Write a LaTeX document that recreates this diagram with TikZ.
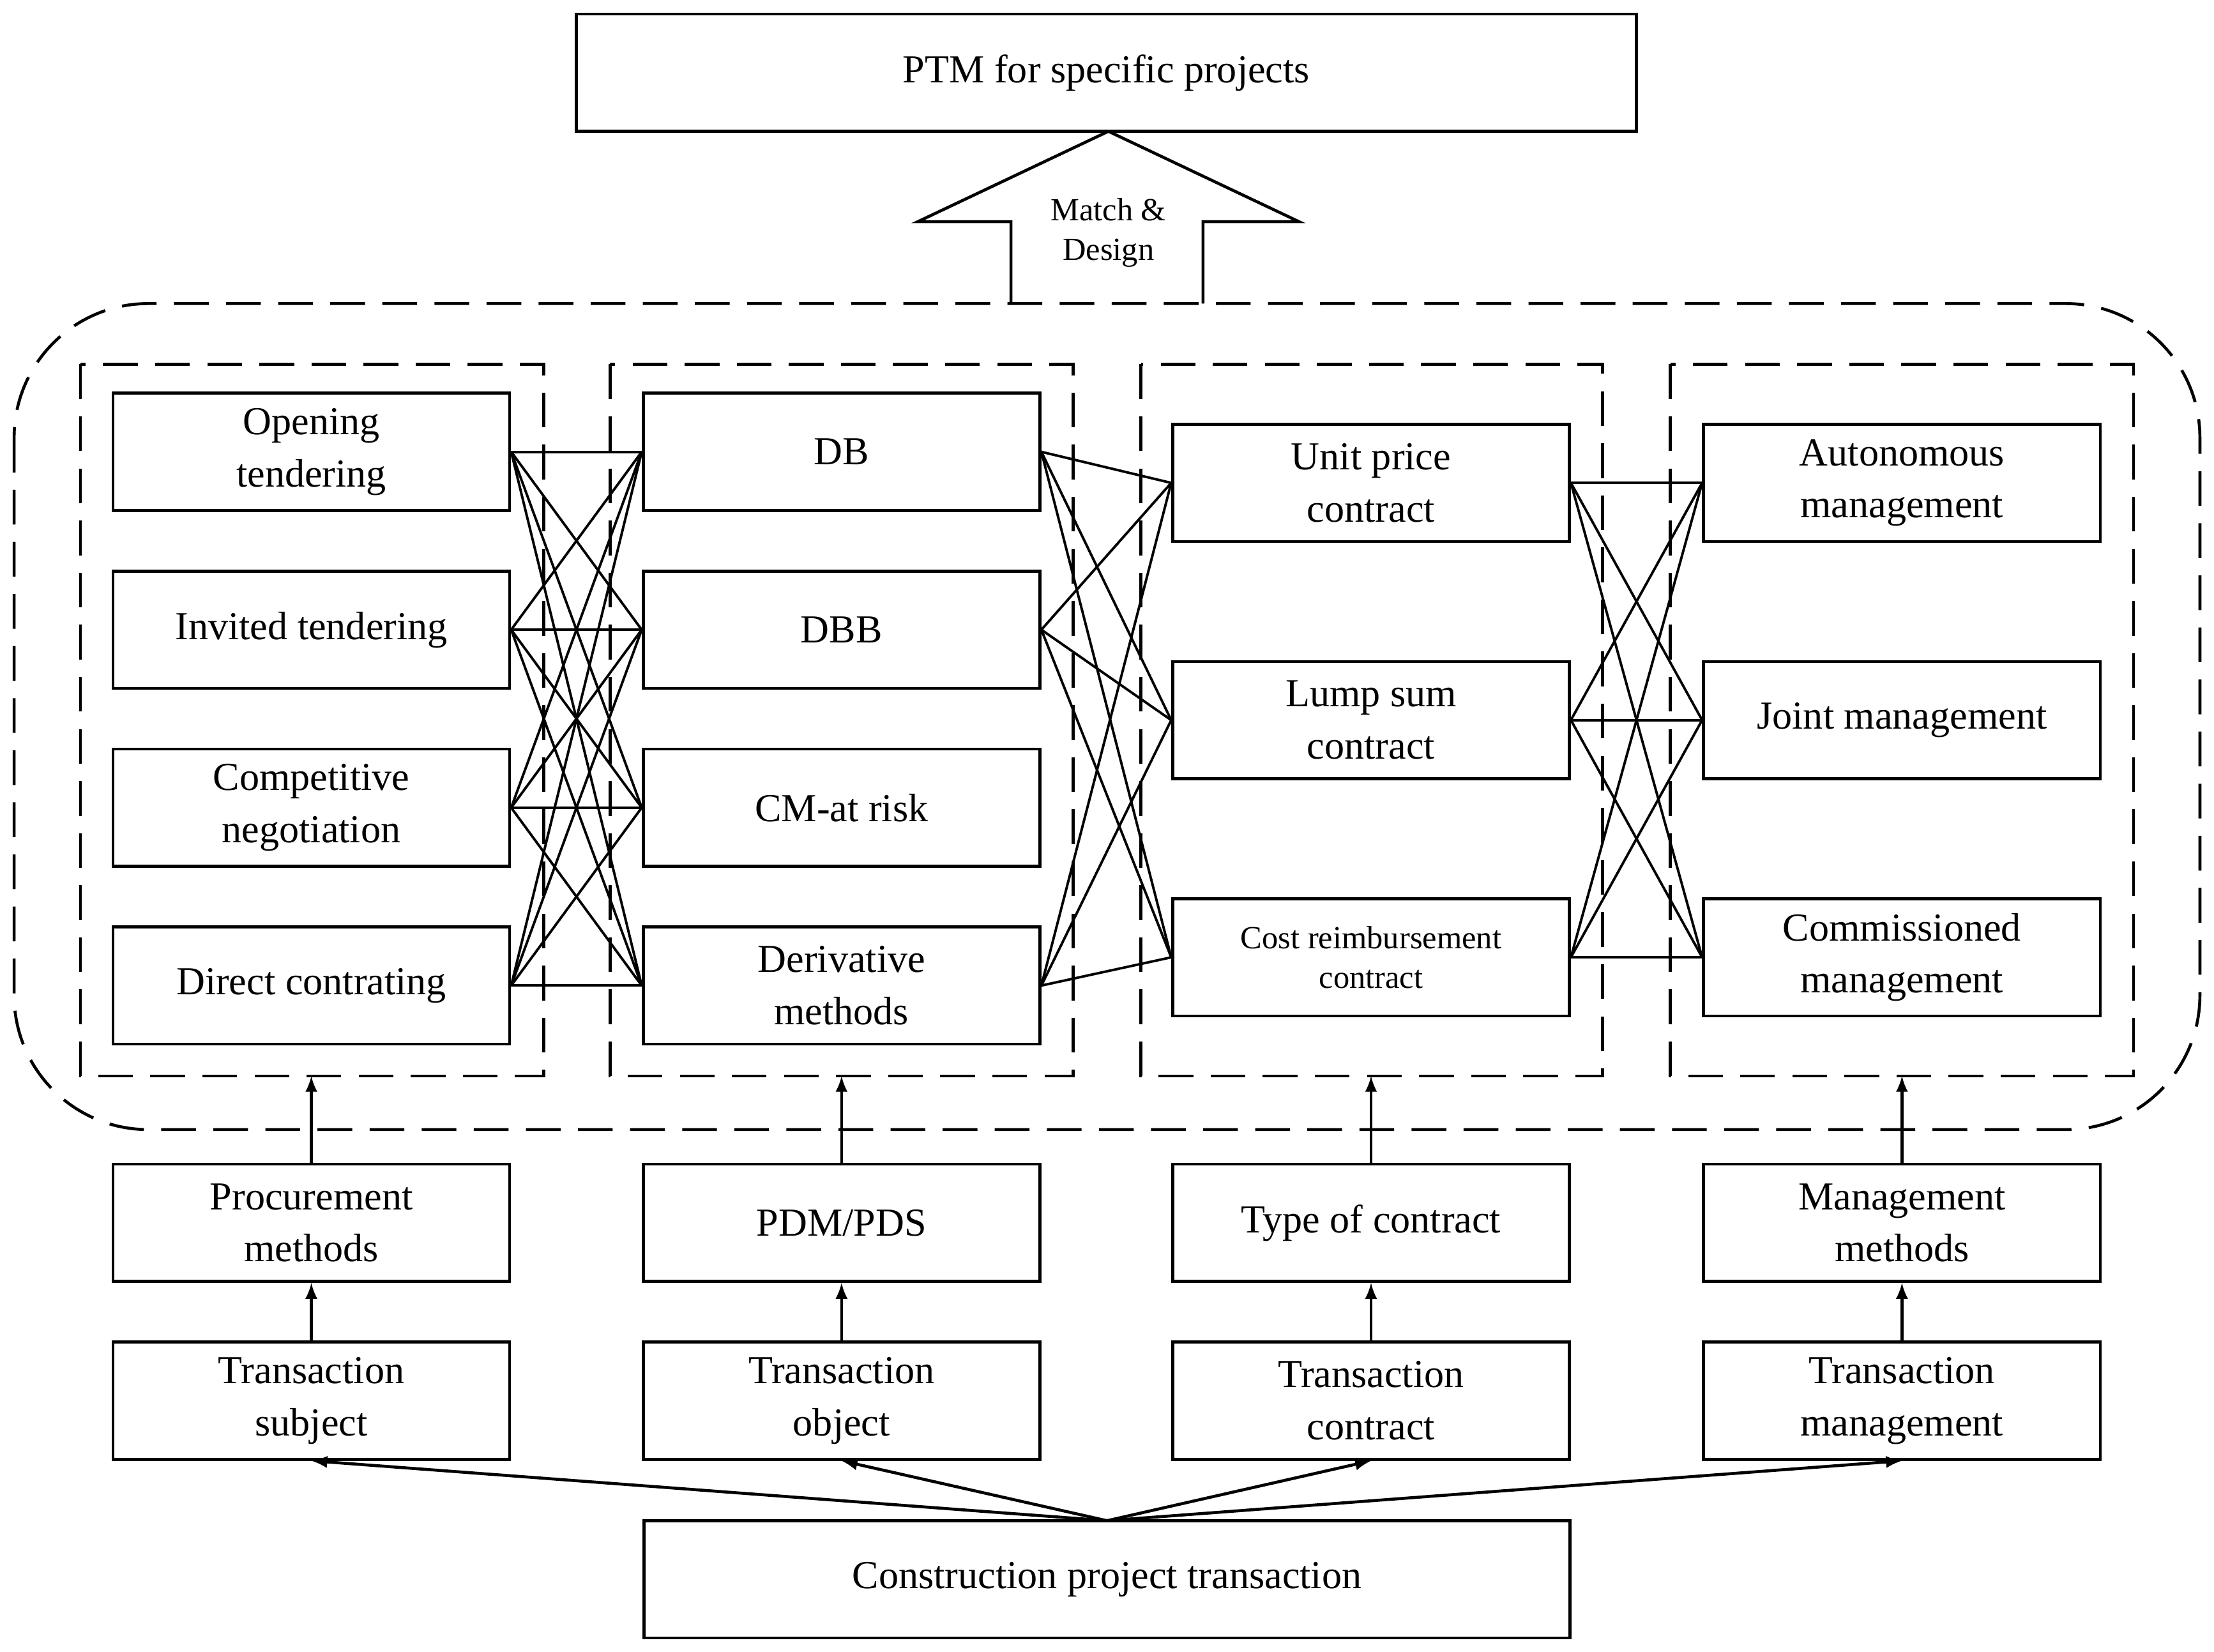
\documentclass[tikz,border=0pt]{standalone}
\usepackage{fontspec}
\setmainfont{Liberation Serif}
\begin{document}
\begin{tikzpicture}[x=0.02cm,y=-0.02cm,
 box/.style={draw,line width=1.2pt,minimum width=5.62cm,minimum height=1.66cm,align=center,inner sep=0pt,font=\fontsize{16}{21}\selectfont},
 ln/.style={line width=1pt},
 ar/.style={line width=1.2pt,-latex},
 dsh/.style={draw,line width=1.2pt,dash pattern=on 14pt off 7pt}]
\useasboundingbox (0,0) rectangle (1568,1170);
% top
\node[box,minimum width=15.02cm] (top) at (783.5,51.5) {PTM for specific projects};
\draw[line width=1.2pt] (716,215) -- (716,157) -- (650,157) -- (785,93) -- (920,157) -- (852,157) -- (852,215);
\node[align=center,font=\fontsize{13}{16}\selectfont] (md) at (785,165) {Match \&\\Design};
% dashed frames
\draw[dsh,rounded corners=1.9cm] (10,215) rectangle (1558,800);
\foreach \a/\b in {57/385,432/760,808/1135,1183/1511}{\draw[dsh] (\a,258) rectangle (\b,762);}
% column 1
\node[box] (o) at (220.5,320) {Opening\\tendering};
\node[box] (i) at (220.5,446) {Invited tendering};
\node[box] (c) at (220.5,572) {Competitive\\negotiation};
\node[box] (d) at (220.5,698) {Direct contrating};
% column 2
\node[box] (db) at (596,320) {DB};
\node[box] (dbb) at (596,446) {DBB};
\node[box] (cm) at (596,572) {CM-at risk};
\node[box] (dm) at (596,698) {Derivative\\methods};
% column 3
\node[box] (u) at (971,342) {Unit price\\contract};
\node[box] (l) at (971,510) {Lump sum\\contract};
\node[box,font=\fontsize{13}{16}\selectfont] (cr) at (971,678) {Cost reimbursement\\contract};
% column 4
\node[box] (a) at (1347,342) {Autonomous\\management};
\node[box] (j) at (1347,510) {Joint management};
\node[box] (cmm) at (1347,678) {Commissioned\\management};
% connections
\foreach \p in {o,i,c,d}{\foreach \q in {db,dbb,cm,dm}{\draw[ln] (\p.east) -- (\q.west);}}
\foreach \p in {db,dbb,dm}{\foreach \q in {u,l,cr}{\draw[ln] (\p.east) -- (\q.west);}}
\foreach \p in {u,l,cr}{\foreach \q in {a,j,cmm}{\draw[ln] (\p.east) -- (\q.west);}}
% lower rows
\node[box] (pm) at (220.5,866) {Procurement\\methods};
\node[box] (pdm) at (596,866) {PDM/PDS};
\node[box] (toc) at (971,866) {Type of contract};
\node[box] (mm) at (1347,866) {Management\\methods};
\node[box] (ts) at (220.5,992) {Transaction\\subject};
\node[box] (to) at (596,992) {Transaction\\object};
\node[box] (tc) at (971,992) {Transaction\\contract};
\node[box] (tm) at (1347,992) {Transaction\\management};
\node[box,minimum width=13.12cm] (cpt) at (784,1118.5) {Construction project transaction};
\coordinate (f1) at (220.5,762);
\coordinate (f2) at (596,762);
\coordinate (f3) at (971,762);
\coordinate (f4) at (1347,762);
\draw[ar] (pm) -- (f1); \draw[ar] (pdm) -- (f2); \draw[ar] (toc) -- (f3); \draw[ar] (mm) -- (f4);
\draw[ar] (ts) -- (pm); \draw[ar] (to) -- (pdm); \draw[ar] (tc) -- (toc); \draw[ar] (tm) -- (mm);
\coordinate (src) at (784,1077);
\draw[ar] (src) -- (ts.south); \draw[ar] (src) -- (to.south); \draw[ar] (src) -- (tc.south); \draw[ar] (src) -- (tm.south);
\end{tikzpicture}
\end{document}
